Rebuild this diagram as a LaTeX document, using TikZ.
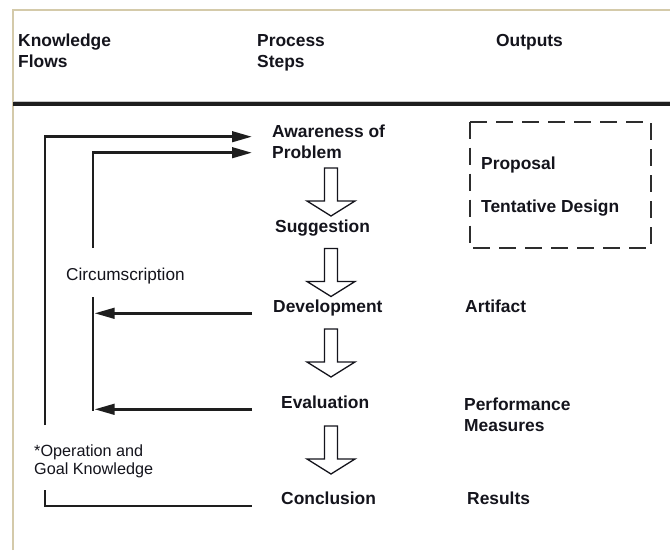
\documentclass[tikz,border=0pt]{standalone}
\usepackage{fontspec}
\setmainfont{Liberation Sans}
\usetikzlibrary{arrows.meta}
\definecolor{ink}{RGB}{20,20,28}
\definecolor{rulec}{RGB}{30,30,30}
\definecolor{framec}{RGB}{212,202,170}
\definecolor{dashc}{RGB}{45,45,45}

\tikzset{
  downarrow/.pic={
    \draw[line width=1.3pt, draw=ink, fill=white, line join=miter]
      (-6.5,0) -- (6.5,0) -- (6.5,33) -- (24,33) -- (0,48) -- (-24,33) -- (-6.5,33) -- cycle;
  }
}

\begin{document}
\begin{tikzpicture}[x=1pt,y=-1pt,
  lbl/.style={anchor=base west, inner sep=0pt, text=ink,
    font=\fontsize{17.4}{21}\selectfont\bfseries, align=left},
  note/.style={anchor=base west, inner sep=0pt, text=ink,
    font=\fontsize{16.2}{18}\selectfont, align=left},
  flow/.style={draw=rulec, line width=2.8pt, line join=miter},
  flowarrow/.style={flow, -{Triangle[length=20pt,width=10.5pt]}}
]
% page and frame
\fill[white] (0,0) rectangle (670,550);
\useasboundingbox (0,0) rectangle (670,550);
\draw[framec, line width=1.5pt] (13,550) -- (13,10) -- (670,10);

% header rule
\draw[gray!45, line width=5.5pt] (13,103.5) -- (670,103.5);
\draw[rulec, line width=3.4pt] (13,104) -- (670,104);

% column headings (base anchor sits on the last line)
\node[lbl] (hKnow) at (18,67) {Knowledge\\Flows};
\node[lbl] (hProc) at (257,67) {Process\\Steps};
\node[lbl] (hOut) at (496,46) {Outputs};

% process steps
\node[lbl] (aware) at (272,158) {Awareness of\\Problem};
\node[lbl] (sugg) at (275,232) {Suggestion};
\node[lbl] (dev) at (273,312) {Development};
\node[lbl] (eval) at (281,408) {Evaluation};
\node[lbl] (concl) at (281,504.5) {Conclusion};

% hollow step arrows
\pic (a1) at (331,168) {downarrow};
\pic (a2) at (331,248.5) {downarrow};
\pic (a3) at (331,329) {downarrow};
\pic (a4) at (331,426) {downarrow};

% outputs
\draw[dashc, line width=2pt, dash pattern=on 17pt off 9pt] (470,121.7) rectangle (650.7,248.3);
\node[lbl] (prop) at (481,169) {Proposal};
\node[lbl] (tent) at (481,212) {Tentative Design};
\node[lbl] (art) at (465,312) {Artifact};
\node[lbl] (perf) at (464,431) {Performance\\Measures};
\node[lbl] (res) at (467,504.5) {Results};

% knowledge flow labels
\node[note, font=\fontsize{17.2}{18}\selectfont] (circ) at (66,280) {Circumscription};
\node[note] (opk) at (34,474) {*Operation and\\Goal Knowledge};

% knowledge flow connectors
\coordinate (oBot) at (45,425);
\coordinate (oTip) at (252,136.7);
\coordinate (iBot) at (93,248);
\coordinate (iTip) at (252,152.7);
\coordinate (cTop) at (93,297);
\coordinate (cBot) at (93,410.7);
\coordinate (dStart) at (252,313.3);
\coordinate (dTip) at (94.5,313.3);
\coordinate (eStart) at (252,409.3);
\coordinate (eTip) at (94.5,409.3);
\coordinate (gTop) at (45,490);
\coordinate (gEnd) at (252,506);

\draw[flowarrow] (oBot) |- (oTip);
\draw[flowarrow] (iBot) |- (iTip);
\draw[flow] (cTop) -- (cBot);
\draw[flowarrow] (dStart) -- (dTip);
\draw[flowarrow] (eStart) -- (eTip);
\draw[flow] (gTop) |- (gEnd);
\end{tikzpicture}
\end{document}
